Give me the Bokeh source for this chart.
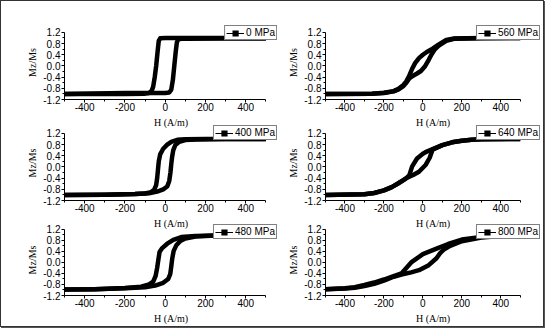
from bokeh.plotting import figure
from bokeh.models import (Range1d, FixedTicker, Legend, LegendItem, ColumnDataSource, Spacer)
from bokeh.layouts import row, column
from bokeh.embed import file_html
from bokeh.resources import INLINE

# ---------------- data ----------------
labels = ["0 MPa", "400 MPa", "480 MPa", "560 MPa", "640 MPa", "800 MPa"]

# 0 MPa
h_down_0 = [500, 300, 0, -25, -32, -38, -45, -52, -60, -68, -80, -100, -200, -500]
m_down_0 = [1.0, 1.0, 1.0, 0.99, 0.9, 0.5, 0.0, -0.4, -0.75, -0.9, -0.97, -0.99, -1.0, -1.0]
h_up_0 = [-500, -200, 0, 20, 30, 38, 45, 52, 58, 65, 80, 100, 300, 500]
m_up_0 = [-1.0, -0.97, -0.97, -0.95, -0.85, -0.5, 0.0, 0.5, 0.85, 0.95, 0.97, 0.97, 0.98, 0.98]

# 400 MPa
h_down_400 = [500, 200, 100, 60, 30, 10, -10, -25, -32, -36, -40, -45, -55, -70, -100, -150, -300, -500]
m_down_400 = [1.0, 1.0, 0.99, 0.97, 0.9, 0.8, 0.65, 0.45, 0.2, -0.1, -0.4, -0.65, -0.82, -0.9, -0.95, -0.97, -0.99, -1.0]
h_up_400 = [-500, -300, -150, -80, -40, -10, 10, 20, 26, 30, 34, 40, 50, 70, 100, 150, 300, 500]
m_up_400 = [-1.0, -0.99, -0.97, -0.94, -0.88, -0.8, -0.7, -0.5, -0.2, 0.1, 0.35, 0.6, 0.78, 0.9, 0.96, 0.98, 1.0, 1.0]

# 480 MPa
h_down_480 = [500, 300, 150, 80, 40, 10, -15, -28, -34, -40, -48, -60, -80, -120, -200, -350, -500]
m_down_480 = [1.0, 0.99, 0.96, 0.92, 0.82, 0.68, 0.52, 0.38, 0.1, -0.2, -0.5, -0.7, -0.8, -0.88, -0.93, -0.97, -0.98]
h_up_480 = [-500, -350, -200, -100, -50, -10, 15, 25, 30, 35, 42, 55, 75, 100, 150, 250, 500]
m_up_480 = [-0.98, -0.97, -0.94, -0.9, -0.84, -0.74, -0.6, -0.42, -0.15, 0.15, 0.42, 0.62, 0.78, 0.87, 0.94, 0.98, 1.0]

# 560 MPa
h_down_560 = [500, 300, 160, 120, 80, 50, 20, 0, -20, -40, -55, -70, -85, -100, -125, -150, -200, -260, -500]
m_down_560 = [1.0, 1.0, 0.98, 0.93, 0.76, 0.62, 0.5, 0.4, 0.28, 0.1, -0.1, -0.35, -0.55, -0.68, -0.82, -0.9, -0.96, -0.99, -1.0]
h_up_560 = [-500, -260, -200, -150, -125, -100, -85, -70, -50, -30, -10, 10, 30, 45, 60, 80, 120, 160, 300, 500]
m_up_560 = [-1.0, -0.99, -0.97, -0.91, -0.84, -0.72, -0.6, -0.45, -0.35, -0.27, -0.18, -0.02, 0.22, 0.42, 0.58, 0.72, 0.9, 0.97, 0.99, 1.0]

# 640 MPa
h_down_640 = [500, 300, 250, 200, 150, 100, 50, 20, 0, -30, -55, -70, -85, -100, -130, -160, -200, -250, -300, -500]
m_down_640 = [1.0, 0.99, 0.97, 0.94, 0.88, 0.78, 0.64, 0.55, 0.47, 0.3, 0.02, -0.3, -0.4, -0.47, -0.6, -0.72, -0.84, -0.93, -0.98, -1.0]
h_up_640 = [-500, -300, -250, -200, -160, -130, -100, -80, -50, -20, 15, 35, 50, 100, 150, 200, 250, 300, 500]
m_up_640 = [-1.0, -0.98, -0.93, -0.84, -0.72, -0.6, -0.47, -0.38, -0.29, -0.17, 0.08, 0.33, 0.62, 0.78, 0.88, 0.94, 0.97, 0.99, 1.0]

# 800 MPa
h_down_800 = [500, 400, 300, 200, 130, 70, 0, -60, -110, -150, -200, -250, -300, -350, -400, -500]
m_down_800 = [1.0, 0.97, 0.92, 0.83, 0.67, 0.5, 0.3, 0.0, -0.4, -0.5, -0.62, -0.73, -0.82, -0.9, -0.94, -0.97]
h_up_800 = [-500, -400, -350, -300, -250, -200, -150, -110, -60, -20, 30, 70, 90, 110, 140, 200, 300, 400, 500]
m_up_800 = [-0.97, -0.95, -0.92, -0.86, -0.78, -0.66, -0.52, -0.44, -0.36, -0.28, -0.1, 0.15, 0.35, 0.48, 0.6, 0.77, 0.9, 0.96, 1.0]

x_ticks = [-400, -200, 0, 200, 400]
x_tick_labels = ["-400", "-200", "0", "200", "400"]
x_minor = [-500, -300, -100, 100, 300, 500]
y_ticks = [-1.2, -0.8, -0.4, 0.0, 0.4, 0.8, 1.2]
y_tick_labels = ["-1.2", "-0.8", "-0.4", "0.0", "0.4", "0.8", "1.2"]
y_minor = [-1.0, -0.6, -0.2, 0.2, 0.6, 1.0]
x_lim = (-500, 500)
y_lim = (-1.2, 1.2)
x_label = "H (A/m)"
y_label = "Mz/Ms"

# ---------------- styling / geometry ----------------
SANS = "'Liberation Sans Narrow', 'Liberation Sans', Arial, sans-serif"
SERIF = "'Liberation Serif', 'Times New Roman', serif"
DATA_H = 68          # pixel height of the data area
# (gap before figure, figure width, border_left, data_width, extra_right_for_legend)
COL = {"L": (23, 255, 32, 209, 12), "R": (6, 258, 32, 202, 21)}
# (border_top, extra_top_for_legend, border_bottom)
ROWS = [(24, 7, 30), (4, 8, 30), (5, 5, 29)]
ROW_MARGINS = [0, -9, -12]


def panel(hd, md, hu, mu, label, col, rowspec):
    gap, width, bl, dw, er = COL[col]
    bt, et, bb = rowspec
    br = width - bl - dw - er
    x_end = x_lim[1] + (x_lim[1] - x_lim[0]) * er / dw
    y_end = y_lim[1] + (y_lim[1] - y_lim[0]) * et / DATA_H
    p = figure(width=width, height=bt + DATA_H + et + bb,
               x_range=Range1d(x_lim[0], x_end), y_range=Range1d(y_lim[0], y_end),
               output_backend="svg", toolbar_location=None,
               min_border_left=bl, min_border_right=br,
               min_border_top=bt, min_border_bottom=bb)
    p.border_fill_color = None
    p.background_fill_color = None
    p.outline_line_color = None
    p.grid.visible = False

    for ax in (p.xaxis[0], p.yaxis[0]):
        ax.axis_line_color = "black"
        ax.axis_line_width = 1
        ax.major_tick_line_color = "black"
        ax.minor_tick_line_color = "black"
        ax.major_tick_in = 0
        ax.major_tick_out = 3
        ax.minor_tick_in = 0
        ax.minor_tick_out = 2
        ax.major_label_text_font = SANS
        ax.major_label_text_font_size = "10px"
        ax.major_label_text_color = "black"
        ax.axis_label_text_font = SERIF
        ax.axis_label_text_font_size = "10px"
        ax.axis_label_text_font_style = "normal"
        ax.axis_label_text_color = "black"

    p.xaxis.bounds = x_lim
    p.yaxis.bounds = y_lim
    p.xaxis.ticker = FixedTicker(ticks=x_ticks, minor_ticks=x_minor)
    p.yaxis.ticker = FixedTicker(ticks=y_ticks, minor_ticks=y_minor)
    p.xaxis.major_label_overrides = {float(t): s for t, s in zip(x_ticks, x_tick_labels)}
    p.yaxis.major_label_overrides = {float(t): s for t, s in zip(y_ticks, y_tick_labels)}
    p.xaxis.axis_label = x_label
    p.yaxis.axis_label = y_label
    p.xaxis.major_label_standoff = 0
    p.xaxis.axis_label_standoff = 3
    p.yaxis.major_label_standoff = 1
    p.yaxis.axis_label_standoff = 2

    p.line(hd, md, line_color="black", line_width=4.5, line_join="round")
    p.line(hu, mu, line_color="black", line_width=4.5, line_join="round")

    # legend sample (line with a square symbol); NaN keeps it off the plot area
    src = ColumnDataSource(data=dict(x=[float("nan")], y=[float("nan")]))
    lr = p.line("x", "y", source=src, line_color="black", line_width=1)
    sr = p.scatter("x", "y", source=src, marker="square", size=6,
                   fill_color="black", line_color="black", line_width=3,
                   line_join="miter")
    leg = Legend(items=[LegendItem(label=label, renderers=[lr, sr])],
                 location="top_right")
    leg.border_line_color = "black"
    leg.border_line_width = 1
    leg.background_fill_color = "white"
    leg.background_fill_alpha = 1
    leg.padding = 1
    leg.margin = 0
    leg.spacing = 0
    leg.glyph_width = 18
    leg.glyph_height = 8
    leg.label_height = 8
    leg.label_standoff = 2
    leg.label_text_font = SANS
    leg.label_text_font_size = "10px"
    leg.label_text_color = "black"
    p.add_layout(leg)
    return p


data = [
    (h_down_0, m_down_0, h_up_0, m_up_0),
    (h_down_400, m_down_400, h_up_400, m_up_400),
    (h_down_480, m_down_480, h_up_480, m_up_480),
    (h_down_560, m_down_560, h_up_560, m_up_560),
    (h_down_640, m_down_640, h_up_640, m_up_640),
    (h_down_800, m_down_800, h_up_800, m_up_800),
]

rows = []
for i in range(3):
    h = sum(ROWS[i]) + DATA_H
    left = panel(*data[i], labels[i], "L", ROWS[i])
    right = panel(*data[i + 3], labels[i + 3], "R", ROWS[i])
    rows.append(row(Spacer(width=COL["L"][0], height=h), left,
                    Spacer(width=COL["R"][0], height=h), right,
                    margin=(ROW_MARGINS[i], 0, 0, 0)))

layout = column(*rows,
                styles={"border": "1px solid #333333", "background-color": "white",
                        "box-shadow": "1px 1px 0px #555555"})

open("out.html", "w").write(file_html(layout, INLINE))
